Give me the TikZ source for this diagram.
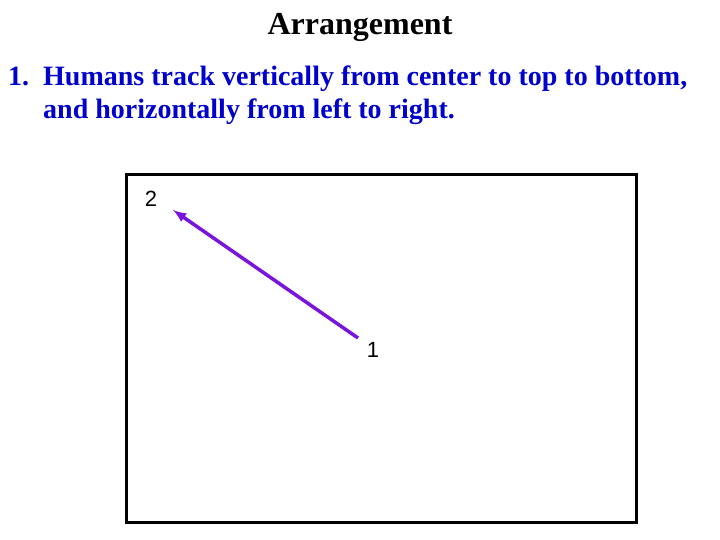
\documentclass[tikz,border=0pt]{standalone}
\usepackage{fontspec}
\setmainfont{Liberation Serif}
\newfontfamily\labelfont{Liberation Sans}
\definecolor{itemblue}{RGB}{0,0,204}
\definecolor{trackviolet}{RGB}{122,20,220}

\begin{document}
\begin{tikzpicture}[x = 1pt, y = -1pt]
\useasboundingbox (0,0) rectangle (720,540);
% title and the item text
\node (title) [anchor = base, font = \fontsize{32}{38}\selectfont\bfseries] at (360,35) {Arrangement};
\node (num) [anchor = base west, inner sep = 0, color = itemblue, font = \fontsize{28}{33}\selectfont\bfseries] at (8,86) {1.};
\node (line1) [anchor = base west, inner sep = 0, color = itemblue, font = \fontsize{28}{33}\selectfont\bfseries] at (43,86) {Humans track vertically from center to top to bottom,};
\node (line2) [anchor = base west, inner sep = 0, color = itemblue, font = \fontsize{28}{33}\selectfont\bfseries] at (43,119) {and horizontally from left to right.};
% the frame
\draw [line width = 3pt] (126,175) rectangle (636,522);
\coordinate (p1) at (358,338);
\coordinate (p2) at (173,210);
\node (L1) [font = \labelfont\fontsize{22}{25}\selectfont] at (373,350) {1};
\node (L2) [font = \labelfont\fontsize{22}{25}\selectfont] at (151,199) {2};
\draw [-latex, line width = 3.5pt, color = trackviolet] (p1) -- (p2);
\end{tikzpicture}
\end{document}
